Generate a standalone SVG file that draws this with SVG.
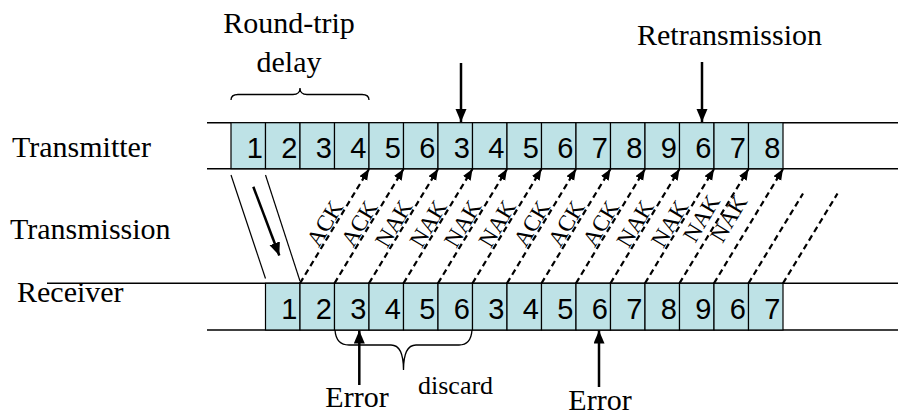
<svg xmlns="http://www.w3.org/2000/svg" width="898" height="416" viewBox="0 0 898 416">
  <style>
    .lbl { font-family: "Liberation Serif", "Times New Roman", serif; font-size: 30px; fill: #000; }
    .num { font-family: "Liberation Sans", Arial, sans-serif; font-size: 29px; fill: #000; text-anchor: end; }
    .tag { font-family: "Liberation Serif", "Times New Roman", serif; font-size: 23px; fill: #000; text-anchor: middle; }
    .cell { fill: #bee2e6; stroke: #000; stroke-width: 1.2; }
    .rail { stroke: #000; stroke-width: 1.5; fill: none; }
    .dash { stroke: #000; stroke-width: 2.2; stroke-dasharray: 6 4; fill: none; }
    .thin { stroke: #000; stroke-width: 1.2; fill: none; }
    .brace { stroke: #000; stroke-width: 1.3; fill: none; }
    .pointer { stroke: #000; stroke-width: 2.5; fill: none; }
  </style>
  <defs>
    <marker id="tip" markerUnits="userSpaceOnUse" markerWidth="12" markerHeight="10" refX="11" refY="4.5" orient="auto">
      <path d="M0,0 L11,4.5 L0,9 z" fill="#000"/>
    </marker>
    <marker id="bigtip" markerUnits="userSpaceOnUse" markerWidth="14" markerHeight="12" refX="13" refY="5.5" orient="auto">
      <path d="M0,0 L13,5.5 L0,11 z" fill="#000"/>
    </marker>
  </defs>

  <rect width="898" height="416" fill="#fff"/>

  <!-- side labels -->
  <text class="lbl" x="12" y="157">Transmitter</text>
  <text class="lbl" x="10" y="239">Transmission</text>
  <text class="lbl" x="17" y="302">Receiver</text>

  <!-- round-trip delay annotation -->
  <g id="round-trip">
    <text class="lbl" x="289" y="33" text-anchor="middle">Round-trip</text>
    <text class="lbl" x="289" y="72" text-anchor="middle">delay</text>
    <path class="brace" d="M231,100 Q231,94.5 238,94.5 L293,94.5 Q300,94.5 300,88 Q300,94.5 307,94.5 L362,94.5 Q369,94.5 369,100"/>
  </g>

  <!-- transmitter rail -->
  <g id="transmitter">
    <line class="rail" x1="207" y1="122.7" x2="898" y2="122.7"/>
    <line class="rail" x1="207" y1="168.7" x2="898" y2="168.7"/>
    <rect class="cell" x="231" y="122.7" width="34.5" height="46"/>
    <rect class="cell" x="265.5" y="122.7" width="34.5" height="46"/>
    <rect class="cell" x="300" y="122.7" width="34.5" height="46"/>
    <rect class="cell" x="334.5" y="122.7" width="34.5" height="46"/>
    <rect class="cell" x="369" y="122.7" width="34.5" height="46"/>
    <rect class="cell" x="403.5" y="122.7" width="34.5" height="46"/>
    <rect class="cell" x="438" y="122.7" width="34.5" height="46"/>
    <rect class="cell" x="472.5" y="122.7" width="34.5" height="46"/>
    <rect class="cell" x="507" y="122.7" width="34.5" height="46"/>
    <rect class="cell" x="541.5" y="122.7" width="34.5" height="46"/>
    <rect class="cell" x="576" y="122.7" width="34.5" height="46"/>
    <rect class="cell" x="610.5" y="122.7" width="34.5" height="46"/>
    <rect class="cell" x="645" y="122.7" width="34.5" height="46"/>
    <rect class="cell" x="679.5" y="122.7" width="34.5" height="46"/>
    <rect class="cell" x="714" y="122.7" width="34.5" height="46"/>
    <rect class="cell" x="748.5" y="122.7" width="34.5" height="46"/>
    <text class="num" x="263" y="157.5">1</text>
    <text class="num" x="297.5" y="157.5">2</text>
    <text class="num" x="332" y="157.5">3</text>
    <text class="num" x="366.5" y="157.5">4</text>
    <text class="num" x="401" y="157.5">5</text>
    <text class="num" x="435.5" y="157.5">6</text>
    <text class="num" x="470" y="157.5">3</text>
    <text class="num" x="504.5" y="157.5">4</text>
    <text class="num" x="539" y="157.5">5</text>
    <text class="num" x="573.5" y="157.5">6</text>
    <text class="num" x="608" y="157.5">7</text>
    <text class="num" x="642.5" y="157.5">8</text>
    <text class="num" x="677" y="157.5">9</text>
    <text class="num" x="711.5" y="157.5">6</text>
    <text class="num" x="746" y="157.5">7</text>
    <text class="num" x="780.5" y="157.5">8</text>
  </g>

  <!-- receiver rail -->
  <g id="receiver">
    <line class="rail" x1="47" y1="283.3" x2="898" y2="283.3"/>
    <line class="rail" x1="207" y1="330" x2="898" y2="330"/>
    <rect class="cell" x="265.5" y="283.3" width="34.5" height="46.7"/>
    <rect class="cell" x="300" y="283.3" width="34.5" height="46.7"/>
    <rect class="cell" x="334.5" y="283.3" width="34.5" height="46.7"/>
    <rect class="cell" x="369" y="283.3" width="34.5" height="46.7"/>
    <rect class="cell" x="403.5" y="283.3" width="34.5" height="46.7"/>
    <rect class="cell" x="438" y="283.3" width="34.5" height="46.7"/>
    <rect class="cell" x="472.5" y="283.3" width="34.5" height="46.7"/>
    <rect class="cell" x="507" y="283.3" width="34.5" height="46.7"/>
    <rect class="cell" x="541.5" y="283.3" width="34.5" height="46.7"/>
    <rect class="cell" x="576" y="283.3" width="34.5" height="46.7"/>
    <rect class="cell" x="610.5" y="283.3" width="34.5" height="46.7"/>
    <rect class="cell" x="645" y="283.3" width="34.5" height="46.7"/>
    <rect class="cell" x="679.5" y="283.3" width="34.5" height="46.7"/>
    <rect class="cell" x="714" y="283.3" width="34.5" height="46.7"/>
    <rect class="cell" x="748.5" y="283.3" width="34.5" height="46.7"/>
    <text class="num" x="297.5" y="319">1</text>
    <text class="num" x="332" y="319">2</text>
    <text class="num" x="366.5" y="319">3</text>
    <text class="num" x="401" y="319">4</text>
    <text class="num" x="435.5" y="319">5</text>
    <text class="num" x="470" y="319">6</text>
    <text class="num" x="504.5" y="319">3</text>
    <text class="num" x="539" y="319">4</text>
    <text class="num" x="573.5" y="319">5</text>
    <text class="num" x="608" y="319">6</text>
    <text class="num" x="642.5" y="319">7</text>
    <text class="num" x="677" y="319">8</text>
    <text class="num" x="711.5" y="319">9</text>
    <text class="num" x="746" y="319">6</text>
    <text class="num" x="780.5" y="319">7</text>
  </g>

  <!-- retransmission pointers -->
  <g id="retransmission">
    <text class="lbl" x="637" y="45">Retransmission</text>
    <line class="pointer" x1="461" y1="63" x2="461" y2="122" marker-end="url(#bigtip)"/>
    <line class="pointer" x1="702" y1="62" x2="702" y2="122" marker-end="url(#bigtip)"/>
  </g>

  <!-- error pointers and discard brace -->
  <g id="errors">
    <line class="pointer" x1="359.3" y1="385" x2="359.3" y2="330.5" marker-end="url(#bigtip)"/>
    <text class="lbl" x="357" y="407" text-anchor="middle">Error</text>
    <line class="pointer" x1="599" y1="387" x2="599" y2="330.5" marker-end="url(#bigtip)"/>
    <text class="lbl" x="600" y="410" text-anchor="middle">Error</text>
    <path class="brace" d="M335,330 Q336,345 349,345 L391,345 Q403.5,345 403.5,370 Q403.5,345 416,345 L459,345 Q471,345 472,330"/>
    <text class="lbl" x="418" y="394" style="font-size:26px">discard</text>
  </g>

  <!-- connectors -->
  <g id="connectors">
    <!-- frame in flight -->
    <line class="thin" x1="231" y1="175" x2="265.5" y2="278.5"/>
    <line class="thin" x1="265.5" y1="175" x2="300" y2="281"/>
    <line class="pointer" stroke-width="3" x1="253.3" y1="186.7" x2="279.3" y2="255.5" marker-end="url(#bigtip)"/>

    <!-- acknowledgements -->
    <line class="dash" x1="300" y1="283.3" x2="369" y2="169" marker-end="url(#tip)"/>
    <line class="dash" x1="334.5" y1="283.3" x2="403.5" y2="169" marker-end="url(#tip)"/>
    <line class="dash" x1="369" y1="283.3" x2="438" y2="169" marker-end="url(#tip)"/>
    <line class="dash" x1="403.5" y1="283.3" x2="472.5" y2="169" marker-end="url(#tip)"/>
    <line class="dash" x1="438" y1="283.3" x2="507" y2="169" marker-end="url(#tip)"/>
    <line class="dash" x1="472.5" y1="283.3" x2="541.5" y2="169" marker-end="url(#tip)"/>
    <line class="dash" x1="507" y1="283.3" x2="576" y2="169" marker-end="url(#tip)"/>
    <line class="dash" x1="541.5" y1="283.3" x2="610.5" y2="169" marker-end="url(#tip)"/>
    <line class="dash" x1="576" y1="283.3" x2="645" y2="169" marker-end="url(#tip)"/>
    <line class="dash" x1="610.5" y1="283.3" x2="679.5" y2="169" marker-end="url(#tip)"/>
    <line class="dash" x1="645" y1="283.3" x2="714" y2="169" marker-end="url(#tip)"/>
    <line class="dash" x1="679.5" y1="283.3" x2="748.5" y2="169" marker-end="url(#tip)"/>
    <line class="dash" x1="714" y1="283.3" x2="783" y2="169" marker-end="url(#tip)"/>
    <line class="dash" x1="748.5" y1="283.3" x2="803" y2="193.5"/>
    <line class="dash" x1="783" y1="283.3" x2="837.5" y2="193.5"/>

    <text class="tag" transform="translate(334.5,226) rotate(-58.9)" x="-3" y="-2">ACK</text>
    <text class="tag" transform="translate(369,226) rotate(-58.9)" x="-3" y="-2">ACK</text>
    <text class="tag" transform="translate(403.5,226) rotate(-58.9)" x="-3" y="-2">NAK</text>
    <text class="tag" transform="translate(438,226) rotate(-58.9)" x="-3" y="-2">NAK</text>
    <text class="tag" transform="translate(472.5,226) rotate(-58.9)" x="-3" y="-2">NAK</text>
    <text class="tag" transform="translate(507,226) rotate(-58.9)" x="-3" y="-2">NAK</text>
    <text class="tag" transform="translate(541.5,226) rotate(-58.9)" x="-3" y="-2">ACK</text>
    <text class="tag" transform="translate(576,226) rotate(-58.9)" x="-3" y="-2">ACK</text>
    <text class="tag" transform="translate(610.5,226) rotate(-58.9)" x="-3" y="-2">ACK</text>
    <text class="tag" transform="translate(645,226) rotate(-58.9)" x="-3" y="-2">NAK</text>
    <text class="tag" transform="translate(679.5,226) rotate(-58.9)" x="-3" y="-2">NAK</text>
    <text class="tag" transform="translate(714,226) rotate(-58.9)" x="0" y="-7">NAK</text>
    <text class="tag" transform="translate(748.5,226) rotate(-58.9)" x="-4" y="-13">NAK</text>
  </g>
</svg>
